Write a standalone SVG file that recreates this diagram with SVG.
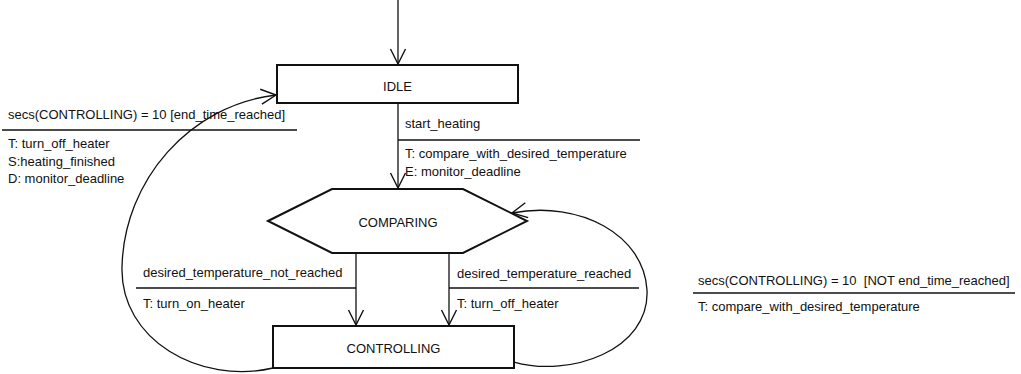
<svg xmlns="http://www.w3.org/2000/svg" width="1021" height="374" viewBox="0 0 1021 374">
  <style>
    text { font-family: "Liberation Sans", Arial, sans-serif; font-size: 13px; fill: #111; }
    .node { fill: #fff; stroke: #111; stroke-width: 2; }
    .edge { fill: none; stroke: #111; stroke-width: 1.3; }
    .rule { stroke: #111; stroke-width: 1.4; }
    .mid { text-anchor: middle; }
  </style>
  <defs>
    <marker id="arrow" markerUnits="userSpaceOnUse" markerWidth="20" markerHeight="20" viewBox="-17 -10 20 20" refX="0" refY="0" orient="auto">
      <path d="M -15 -7.5 L 0 0 L -15 7.5" fill="none" stroke="#111" stroke-width="1.4"/>
    </marker>
  </defs>
  <rect width="1021" height="374" fill="#fff"/>

  <g id="idle">
    <rect class="node" x="277" y="65" width="241" height="38"/>
    <text class="mid" x="397.5" y="91">IDLE</text>
  </g>

  <g id="comparing">
    <polygon class="node" points="268,221 332,189 463,189 527,221 463,253 332,253"/>
    <text class="mid" x="398" y="227">COMPARING</text>
  </g>

  <g id="controlling">
    <rect class="node" x="273" y="326" width="241" height="42"/>
    <text class="mid" x="393.5" y="353">CONTROLLING</text>
  </g>

  <g id="connectors">
    <path class="edge" d="M 398 0 L 398 64" marker-end="url(#arrow)"/>
    <path class="edge" d="M 398 104 L 398 188" marker-end="url(#arrow)"/>
    <path class="edge" d="M 356 254 L 356 325" marker-end="url(#arrow)"/>
    <path class="edge" d="M 449 254 L 449 325" marker-end="url(#arrow)"/>
    <path class="edge" d="M 514 362 C 570 378, 650 350, 647 290 C 644 235, 580 200, 512 213" marker-end="url(#arrow)"/>
    <path class="edge" d="M 273 368 C 200 385, 120 340, 122 267 C 124 180, 190 105, 276 95" marker-end="url(#arrow)"/>
  </g>

  <g id="labels">
    <g id="label-start-heating">
      <text x="405" y="128">start_heating</text>
      <line class="rule" x1="398" y1="140" x2="640" y2="140"/>
      <text x="405" y="158">T: compare_with_desired_temperature</text>
      <text x="405" y="176">E: monitor_deadline</text>
    </g>
    <g id="label-end-time">
      <text x="8" y="119">secs(CONTROLLING) = 10 [end_time_reached]</text>
      <line class="rule" x1="2" y1="130" x2="297" y2="130"/>
      <text x="8" y="148">T: turn_off_heater</text>
      <text x="8" y="166">S:heating_finished</text>
      <text x="8" y="183">D: monitor_deadline</text>
    </g>
    <g id="label-not-reached">
      <text x="143" y="277">desired_temperature_not_reached</text>
      <line class="rule" x1="136" y1="288" x2="356" y2="288"/>
      <text x="143" y="308">T: turn_on_heater</text>
    </g>
    <g id="label-reached">
      <text x="457" y="278">desired_temperature_reached</text>
      <line class="rule" x1="449" y1="288" x2="639" y2="288"/>
      <text x="457" y="308">T: turn_off_heater</text>
    </g>
    <g id="label-not-end-time">
      <text x="698" y="285" xml:space="preserve">secs(CONTROLLING) = 10  [NOT end_time_reached]</text>
      <line class="rule" x1="693" y1="293" x2="1015" y2="293"/>
      <text x="698" y="311">T: compare_with_desired_temperature</text>
    </g>
  </g>
</svg>
